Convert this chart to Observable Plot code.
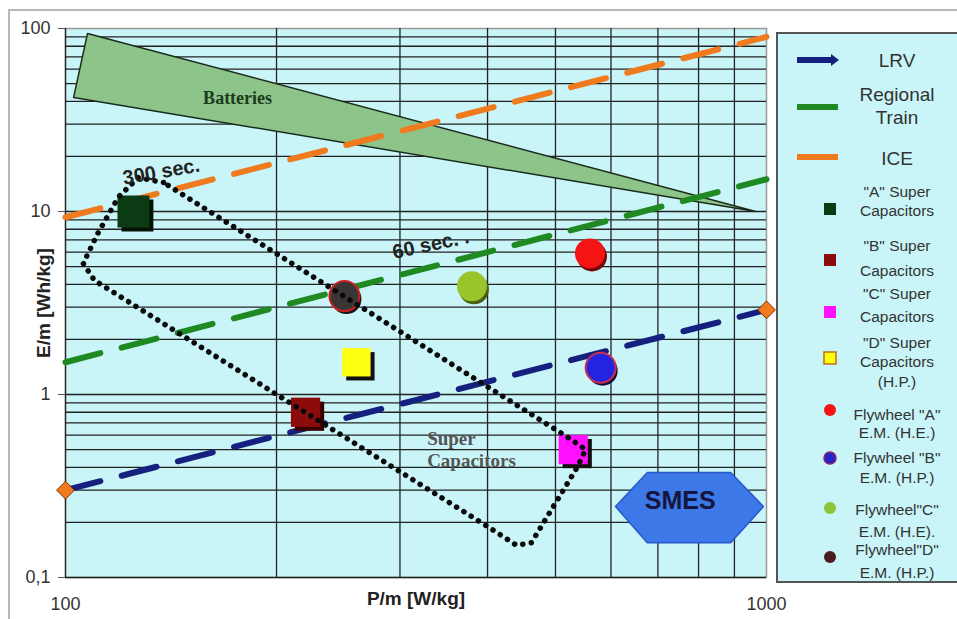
<!DOCTYPE html>
<html><head><meta charset="utf-8">
<script src="https://cdn.jsdelivr.net/npm/d3@7"></script>
<script src="https://cdn.jsdelivr.net/npm/@observablehq/plot@0.6"></script>
<style>
body{margin:0;background:#fff;font-family:"Liberation Sans",Arial,sans-serif;}
#wrap{position:relative;width:957px;height:619px;overflow:hidden;background:#fff;}
#frame{position:absolute;left:8px;top:9px;width:970px;height:640px;border-left:2px solid #b8b8b8;border-top:2px solid #b8b8b8;}
#chart{position:absolute;left:0;top:0;}
#legend{position:absolute;left:776px;top:32px;}
</style></head><body>
<div id="wrap"><div id="frame"></div><div id="chart"></div><div id="legend"></div></div>
<script>
// ---- axes / ticks ----
const xTicks = [100, 1000];
const xTickLabels = ["100", "1000"];
const yTicks = [0.1, 1, 10, 100];
const yTickLabels = ["0,1", "1", "10", "100"];
const gridP = [100, 200, 300, 400, 500, 600, 700, 800, 900, 1000];
const gridE = [0.1, 0.2, 0.3, 0.4, 0.5, 0.6, 0.7, 0.8, 0.9, 1, 2, 3, 4, 5, 6, 7, 8, 9, 10, 20, 30, 40, 50, 60, 70, 80, 90, 100];
const xTitle = "P/m [W/kg]";
const yTitle = "E/m [Wh/kg]";

// ---- vehicle requirement lines ----
const seriesNames = ["LRV", "Regional Train", "ICE"];
const seriesP = [100, 1000];
const lrvE = [0.3, 2.9];
const regionalE = [1.5, 15];
const iceE = [9.3, 90];

// ---- storage devices ----
const pointNames = ['"A" Super Capacitors', '"B" Super Capacitors', '"C" Super Capacitors', '"D" Super Capacitors (H.P.)',
  'Flywheel "A" E.M. (H.E.)', 'Flywheel "B" E.M. (H.P.)', 'Flywheel"C" E.M. (H.E).', 'Flywheel"D" E.M. (H.P.)'];
const pointLegendLabels = [['"A" Super', 'Capacitors'], ['"B" Super', 'Capacitors'], ['"C" Super', 'Capacitors'],
  ['"D" Super', 'Capacitors', '(H.P.)'], ['Flywheel "A"', 'E.M. (H.E.)'], ['Flywheel "B"', 'E.M. (H.P.)'],
  ['Flywheel"C"', 'E.M. (H.E).'], ['Flywheel"D"', 'E.M. (H.P.)']];
const pointP = [125, 220, 530, 260, 560, 580, 380, 250];
const pointE = [10, 0.8, 0.5, 1.5, 5.9, 1.4, 3.9, 3.45];

// ---- regions ----
const batteryP = [107.5, 102.7, 965, 107.5];
const batteryE = [94, 42, 10, 94];
const superCapP = [138, 127, 119, 111, 106, 110, 400, 440, 462, 537, 552, 522, 138];
const superCapE = [14.4, 15.3, 12.0, 7.5, 5.2, 4.2, 0.19, 0.15, 0.155, 0.40, 0.50, 0.58, 14.4];
const smesP = [609, 676, 889, 990, 889, 676, 609];
const smesE = [0.244, 0.375, 0.375, 0.244, 0.155, 0.155, 0.244];

// ---- annotations ----
const noteText = ["Batteries", "300 sec.", "60 sec. .", "Super", "Capacitors", "SMES"];
const noteP = [176, 137, 332, 328, 328, 753];
const noteE = [41.5, 16.5, 6.6, 0.575, 0.436, 0.262];

// ---- styles ----
const lineColors = ["#16207e", "#1f8a22", "#f07a1e"];
const pointFill = ["#0b3b12", "#8c0c0c", "#ff10ff", "#ffff10", "#f51414", "#2424e0", "#9ac42c", "#3b3535"];
const pointShadow = ["#021405", "#3a0000", "#111111", "#111111", "#700808", "#1a0a40", "#4a6010", "#151515"];
const pointRing = [null, null, null, null, null, "#c8304c", null, "#c82020"];
const squareR = [18, 16.5, 16.5, 16];
const bg = "#c9f5f8";

const rows = (P, E) => P.map((p, k) => ({p, e: E[k]}));
const lrv = rows(seriesP, lrvE), regional = rows(seriesP, regionalE), ice = rows(seriesP, iceE);
const pts = pointNames.map((name, i) => ({name, p: pointP[i], e: pointE[i], i}));
const squares = pts.filter(d => d.i < 4), circles = pts.filter(d => d.i >= 4);
const notes = noteText.map((t, i) => ({t, p: noteP[i], e: noteE[i], i}));

const chart = Plot.plot({
  width: 957, height: 619,
  marginLeft: 65, marginRight: 191, marginTop: 28, marginBottom: 42,
  x: {type: "log", domain: [100, 1000]},
  y: {type: "log", domain: [0.1, 100]},
  r: {type: "identity"},
  style: {fontFamily: "'Liberation Sans', Arial, sans-serif", background: "transparent", overflow: "visible", color: "#333"},
  marks: [
    Plot.frame({fill: bg, stroke: "none"}),
    Plot.frame({stroke: "#999", strokeWidth: 1.5}),
    Plot.ruleX(gridP.filter(p => p < 1000), {stroke: "#222", strokeWidth: 1.3}),
    Plot.ruleY(gridE.filter(e => e < 100), {stroke: "#222", strokeWidth: 1.3}),
    Plot.axisY({ticks: yTicks, tickFormat: d => yTickLabels[yTicks.indexOf(d)], tickSize: 7, tickPadding: 8, fontSize: 18, label: null, stroke: "#555"}),
    Plot.axisX({ticks: xTicks, tickFormat: d => xTickLabels[xTicks.indexOf(d)], tickSize: 0, tickPadding: 20, fontSize: 18, label: null}),
    Plot.text([xTitle], {frameAnchor: "bottom", dy: 27, fontSize: 19, fontWeight: "bold", fill: "#222"}),
    Plot.text([yTitle], {frameAnchor: "left", textAnchor: "middle", dx: -22, rotate: -90, fontSize: 19, fontWeight: "bold", fill: "#222"}),
    // Batteries region
    Plot.line(rows(batteryP, batteryE), {x: "p", y: "e", fill: "#8cc48a", stroke: "#1c2a1c", strokeWidth: 1.5}),
    // SMES
    Plot.line(rows(smesP, smesE), {x: "p", y: "e", fill: "#3c78e8", stroke: "#2a58c8", strokeWidth: 1.5}),
    // requirement lines
    Plot.line(lrv, {x: "p", y: "e", stroke: lineColors[0], strokeWidth: 6, strokeDasharray: "36,22"}),
    Plot.line(regional, {x: "p", y: "e", stroke: lineColors[1], strokeWidth: 6, strokeDasharray: "36,22"}),
    Plot.line(ice, {x: "p", y: "e", stroke: lineColors[2], strokeWidth: 6, strokeDasharray: "36,22"}),
    Plot.dot(lrv, {x: "p", y: "e", symbol: "diamond2", r: 8, fill: "#f07a1e", stroke: "#7a3000", strokeWidth: 1}),
    // squares
    Plot.dot(squares, {x: "p", y: "e", symbol: "square", r: d => squareR[d.i], fill: d => pointShadow[d.i], dx: 4, dy: 4}),
    Plot.dot(squares, {x: "p", y: "e", symbol: "square", r: d => squareR[d.i], fill: d => pointFill[d.i]}),
    // circles
    Plot.dot(circles, {x: "p", y: "e", r: 15, fill: d => pointShadow[d.i], dx: 2, dy: 3}),
    Plot.dot(circles, {x: "p", y: "e", r: 15, fill: d => pointFill[d.i]}),
    Plot.dot(circles.filter(d => pointRing[d.i]), {x: "p", y: "e", r: 15, fill: "none", stroke: d => pointRing[d.i], strokeWidth: 2}),
    // super capacitor dotted region
    Plot.line(rows(superCapP, superCapE), {x: "p", y: "e", stroke: "#0a0a0a", strokeWidth: 5.5, strokeDasharray: "0.1,8.5", strokeLinecap: "round"}),
    // annotations
    Plot.text(notes.filter(d => d.i === 0), {x: "p", y: "e", text: "t", fontFamily: "'Liberation Serif', 'Times New Roman', serif", fontWeight: "bold", fontSize: 18, fill: "#1c3a1c"}),
    Plot.text(notes.filter(d => d.i === 1), {x: "p", y: "e", text: "t", fontSize: 20, fontWeight: "bold", rotate: -10, fill: "#222"}),
    Plot.text(notes.filter(d => d.i === 2), {x: "p", y: "e", text: "t", fontSize: 20, fontWeight: "bold", rotate: -12, fill: "#222"}),
    Plot.text(notes.filter(d => d.i === 3 || d.i === 4), {x: "p", y: "e", text: "t", textAnchor: "start", fontFamily: "'Liberation Serif', 'Times New Roman', serif", fontWeight: "bold", fontSize: 19, fill: "#555"}),
    Plot.text(notes.filter(d => d.i === 5), {x: "p", y: "e", text: "t", fontWeight: "bold", fontSize: 25, fill: "#15163e"})
  ]
});
document.getElementById("chart").appendChild(chart);

// ---- legend ----
const lg = d3.select("#legend").append("svg").attr("width", 190).attr("height", 552).style("overflow", "visible");
lg.append("rect").attr("x", 1).attr("y", 1).attr("width", 200).attr("height", 549).attr("fill", bg).attr("stroke", "#555").attr("stroke-width", 2);
const ox = 776, oy = 32;
const symX = 830 - ox, txtX = 897 - ox;
const lineRowY = [60, 107, 157];
const lineLabelLines = [["LRV"], ["Regional", "Train"], ["ICE"]];
const lineLabelY = [[60], [94, 117], [158]];
lineRowY.forEach((y, i) => {
  const yy = y - oy;
  lg.append("line").attr("x1", 797 - ox).attr("x2", (i === 0 ? 831 : 838) - ox).attr("y1", yy).attr("y2", yy)
    .attr("stroke", lineColors[i]).attr("stroke-width", 6);
  if (i === 0) lg.append("path").attr("d", `M${831 - ox},${yy - 6}L${839 - ox},${yy}L${831 - ox},${yy + 6}Z`).attr("fill", lineColors[0]);
  lineLabelLines[i].forEach((t, k) => lg.append("text").attr("x", txtX).attr("y", lineLabelY[i][k] - oy).attr("dy", "0.35em")
    .attr("text-anchor", "middle").attr("font-size", 19).attr("fill", "#333").text(t));
});
const ptSymY = [209, 260, 312, 358, 410, 458, 508, 557];
const ptLabelY = [[192, 211], [246, 271], [294, 317], [343, 362, 382], [415, 433], [458, 478], [510, 532], [550, 573]];
const legendDotFill = ["#0b3b12", "#8c0c0c", "#ff10ff", "#ffff10", "#f51414", "#2424c8", "#8cc43a", "#4a1c1c"];
pts.forEach((d, i) => {
  const y = ptSymY[i] - oy;
  if (i < 4) lg.append("rect").attr("x", symX - 6).attr("y", y - 6).attr("width", 12).attr("height", 12)
    .attr("fill", legendDotFill[i]).attr("stroke", i === 3 ? "#c07010" : "none").attr("stroke-width", 1.5);
  else lg.append("circle").attr("cx", symX).attr("cy", y).attr("r", 6).attr("fill", legendDotFill[i])
    .attr("stroke", i === 5 ? "#902060" : "none").attr("stroke-width", 1.5);
  pointLegendLabels[i].forEach((t, k) => lg.append("text").attr("x", txtX).attr("y", ptLabelY[i][k] - oy).attr("dy", "0.35em")
    .attr("text-anchor", "middle").attr("font-size", 15.5).attr("fill", "#333").text(t));
});
</script>
</body></html>
